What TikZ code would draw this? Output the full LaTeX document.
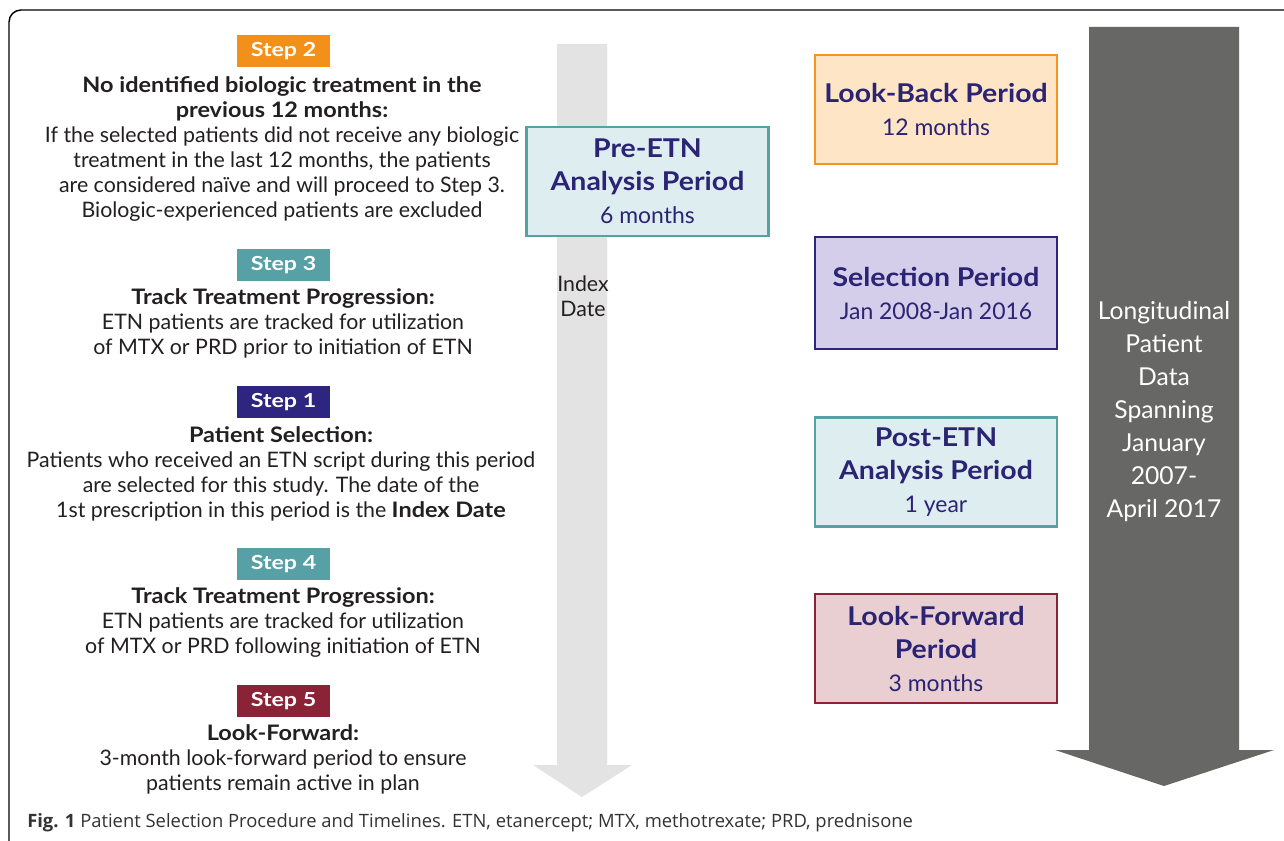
\documentclass[tikz,border=0pt]{standalone}
\usepackage{fontspec}
\setmainfont{Lato}[BoldFeatures={FakeStretch=1.1}]
\newfontfamily\lblfont{Lato}[FakeStretch=1.2]
\newfontfamily\capfont{Open Sans}
\definecolor{cOrange}{HTML}{F39019}
\definecolor{cOrangeB}{HTML}{F7941D}
\definecolor{cOrangeF}{HTML}{FEE5C6}
\definecolor{cTeal}{HTML}{56A0A6}
\definecolor{cTealF}{HTML}{DEEDF0}
\definecolor{cNavy}{HTML}{2D2580}
\definecolor{cNavyT}{HTML}{2B2373}
\definecolor{cLav}{HTML}{D4CEEA}
\definecolor{cMaroon}{HTML}{8B2337}
\definecolor{cMaroonF}{HTML}{E9CFD1}
\definecolor{cText}{HTML}{231F20}
\definecolor{cLight}{HTML}{E3E3E3}
\definecolor{cDark}{HTML}{676765}
\definecolor{cCap}{HTML}{333333}
\newcommand{\bx}[1]{{\fontsize{19.4}{24.75}\selectfont\bfseries #1}}
\tikzset{
  steplbl/.style={text=white, font=\lblfont\fontsize{14.5}{16}\selectfont\bfseries, minimum width=69.75pt, minimum height=24pt, inner sep=0pt},
  bodytxt/.style={text=cText, align=center, font=\fontsize{16}{18.75}\selectfont, inner sep=0pt},
  period/.style={draw, line width=2.2pt, minimum width=181.5pt, minimum height=81.75pt, align=center, text=cNavyT, font=\fontsize{17.2}{24.75}\selectfont, inner sep=0pt},
}
\begin{document}
\begin{tikzpicture}[x=0.75pt,y=-0.75pt]
\useasboundingbox (0,0) rectangle (1284,841);
\fill[white] (0,0) rectangle (1284,841);
\draw[line width=1.1pt, rounded corners=9pt] (1310,10) -- (9,10) -- (9,853) -- (1310,853);
% arrows
\fill[cLight] (557,44) -- (607,44) -- (607,765) -- (632,765) -- (582,797) -- (533,765) -- (557,765) -- cycle;
\fill[cDark] (1089,27) -- (1239,27) -- (1239,750) -- (1274,750) -- (1164,786) -- (1055,750) -- (1089,750) -- cycle;
% step labels
\node[steplbl, fill=cOrange] (s2) at (283.5,51) {Step 2};
\node[steplbl, fill=cTeal] (s3) at (283.5,265.5) {Step 3};
\node[steplbl, fill=cNavy] (s1) at (283.5,402) {Step 1};
\node[steplbl, fill=cTeal] (s4) at (283.5,564) {Step 4};
\node[steplbl, fill=cMaroon] (s5) at (283.5,701) {Step 5};
% step texts
\node[bodytxt] (t2) at (282,149) {\textbf{No identified biologic treatment in the}\\\textbf{previous 12 months:}\\If the selected patients did not receive any biologic\\treatment in the last 12 months, the patients\\are considered naïve and will proceed to Step 3.\\Biologic-experienced patients are excluded};
\node[bodytxt] (t3) at (283,323) {\textbf{Track Treatment Progression:}\\ETN patients are tracked for utilization\\of MTX or PRD prior to initiation of ETN};
\node[bodytxt] (t1) at (281,474) {\textbf{Patient Selection:}\\Patients who received an ETN script during this period\\are selected for this study. The date of the\\1st prescription in this period is the \textbf{Index Date}};
\node[bodytxt] (t4) at (283,623) {\textbf{Track Treatment Progression:}\\ETN patients are tracked for utilization\\of MTX or PRD following initiation of ETN};
\node[bodytxt] (t5) at (283,759.5) {\textbf{Look-Forward:}\\3-month look-forward period to ensure\\patients remain active in plan};
\node[bodytxt] (idx) at (583,296) {Index\\Date};
% period boxes
\node[period, draw=cTeal, fill=cTealF] (pre) at (647.5,181.5) {\bx{Pre-ETN}\\\bx{Analysis Period}\\6 months};
\node[period, draw=cOrangeB, fill=cOrangeF] (lb) at (936,109.5) {\bx{Look-Back Period}\\12 months};
\node[period, draw=cNavy, fill=cLav, minimum height=84pt] (sel) at (936,293) {\bx{Selection Period}\\Jan 2008-Jan 2016};
\node[period, draw=cTeal, fill=cTealF] (post) at (936,472) {\bx{Post-ETN}\\\bx{Analysis Period}\\1 year};
\node[period, draw=cMaroon, fill=cMaroonF] (lf) at (936,648.5) {\bx{Look-Forward}\\\bx{Period}\\3 months};
\node[text=white, align=center, font=\fontsize{18.5}{24.75}\selectfont, inner sep=0pt] (long) at (1164,412) {Longitudinal\\Patient\\Data\\Spanning\\January\\2007-\\April 2017};
% caption
\node[anchor=west, text=cCap, font=\capfont\fontsize{13.8}{15}\selectfont, inner sep=0pt] (cap) at (27,823) {\textbf{Fig. 1} Patient Selection Procedure and Timelines. ETN, etanercept; MTX, methotrexate; PRD, prednisone};
\end{tikzpicture}
\end{document}
